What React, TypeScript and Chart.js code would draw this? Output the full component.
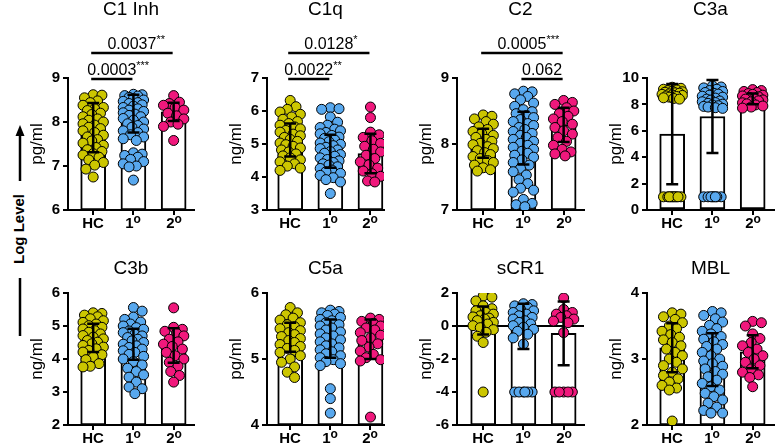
import React, { useEffect, useRef } from 'react';
import { Chart, registerables } from 'chart.js';
Chart.register(...registerables);

const FONT = "'Liberation Sans', Arial, Helvetica, sans-serif";

// ---------- DATA ----------
const groupLabels = ['HC', '1', '2'];
const groupSups = ['', 'o', 'o'];

const panelTitles = ['C1 Inh', 'C1q', 'C2', 'C3a', 'C3b', 'C5a', 'sCR1', 'MBL'];
const panelUnits = ['pg/ml', 'ng/ml', 'pg/ml', 'pg/ml', 'ng/ml', 'pg/ml', 'ng/ml', 'ng/ml'];
const yMins = [6, 3, 7, 0, 2, 4, -6, 2];
const yMaxs = [9, 7, 9, 10, 6, 6, 2, 4];
const ySteps = [1, 1, 1, 2, 1, 1, 2, 1];

const c1inhMeans = [7.87, 8.19, 8.23];
const c1inhSDs = [0.56, 0.43, 0.21];
const c1qMeans = [5.12, 4.78, 4.71];
const c1qSDs = [0.5, 0.5, 0.6];
const c2Means = [8.01, 8.09, 8.29];
const c2SDs = [0.22, 0.4, 0.26];
const c3aMeans = [5.75, 7.08, 8.42];
const c3aSDs = [3.8, 2.77, 0.4];
const c3bMeans = [4.64, 4.45, 4.41];
const c3bSDs = [0.43, 0.47, 0.52];
const c5aMeans = [5.33, 5.31, 5.3];
const c5aSDs = [0.22, 0.29, 0.3];
const scr1Means = [0.33, -0.02, -0.45];
const scr1SDs = [0.85, 1.37, 1.93];
const mblMeans = [3.17, 2.99, 3.11];
const mblSDs = [0.37, 0.4, 0.25];

const c1inhHC = [8.62, 8.61, 8.55, 8.48, 8.44, 8.38, 8.33, 8.3, 8.26, 8.2, 8.17, 8.12, 8.07, 8.04, 8.0, 7.96, 7.93, 7.88, 7.85, 7.8, 7.76, 7.7, 7.66, 7.6, 7.57, 7.52, 7.47, 7.42, 7.37, 7.33, 7.28, 7.25, 7.2, 7.14, 7.08, 7.02, 6.93, 6.75];
const c1inhP1 = [8.63, 8.62, 8.6, 8.59, 8.56, 8.53, 8.5, 8.47, 8.44, 8.42, 8.39, 8.36, 8.33, 8.3, 8.27, 8.24, 8.21, 8.18, 8.15, 8.12, 8.08, 8.04, 8.0, 7.96, 7.92, 7.88, 7.84, 7.8, 7.76, 7.71, 7.66, 7.62, 7.58, 7.3, 7.27, 7.24, 7.2, 7.15, 7.1, 7.05, 7.0, 6.98, 6.68];
const c1inhP2 = [8.6, 8.45, 8.42, 8.38, 8.33, 8.27, 8.2, 8.14, 8.07, 8.0, 7.95, 7.9, 7.58];

const c1qHC = [6.32, 6.13, 6.05, 5.97, 5.9, 5.82, 5.75, 5.68, 5.62, 5.57, 5.52, 5.46, 5.41, 5.36, 5.3, 5.25, 5.2, 5.14, 5.08, 5.03, 4.98, 4.93, 4.88, 4.82, 4.76, 4.7, 4.64, 4.58, 4.52, 4.46, 4.4, 4.33, 4.27, 4.2];
const c1qP1 = [6.1, 6.07, 6.05, 5.82, 5.66, 5.57, 5.5, 5.45, 5.4, 5.35, 5.31, 5.26, 5.21, 5.17, 5.12, 5.07, 5.03, 4.99, 4.95, 4.9, 4.86, 4.82, 4.77, 4.72, 4.68, 4.63, 4.58, 4.53, 4.49, 4.44, 4.4, 4.36, 4.31, 4.26, 4.21, 4.16, 4.11, 4.05, 3.98, 3.92, 3.85, 3.5];
const c1qP2 = [6.12, 5.8, 5.36, 5.28, 5.2, 5.1, 5.02, 4.93, 4.84, 4.76, 4.66, 4.56, 4.46, 4.37, 4.27, 4.18, 4.1, 4.02, 3.88, 3.85];

const c2HC = [8.44, 8.42, 8.38, 8.34, 8.3, 8.26, 8.22, 8.19, 8.16, 8.13, 8.1, 8.07, 8.04, 8.01, 7.99, 7.96, 7.93, 7.9, 7.87, 7.84, 7.81, 7.78, 7.75, 7.72, 7.68, 7.64, 7.61, 7.59];
const c2P1 = [8.8, 8.79, 8.76, 8.72, 8.67, 8.62, 8.57, 8.52, 8.49, 8.46, 8.43, 8.4, 8.37, 8.34, 8.31, 8.28, 8.25, 8.22, 8.19, 8.16, 8.13, 8.1, 8.07, 8.04, 8.01, 7.98, 7.95, 7.92, 7.89, 7.86, 7.83, 7.8, 7.76, 7.72, 7.68, 7.63, 7.58, 7.53, 7.46, 7.4, 7.33, 7.3, 7.27, 7.16, 7.1, 7.08, 7.05];
const c2P2 = [8.66, 8.63, 8.6, 8.55, 8.5, 8.46, 8.42, 8.38, 8.34, 8.3, 8.25, 8.2, 8.15, 8.1, 8.04, 7.98, 7.92, 7.88, 7.85, 7.82];

const c3aHC = [9.3, 9.22, 9.15, 9.1, 9.05, 9.0, 8.96, 8.92, 8.88, 8.85, 8.8, 8.76, 8.72, 8.68, 8.64, 8.6, 8.55, 8.5, 8.45, 8.4, 1.0, 1.0, 1.0, 1.0, 1.0, 1.0, 1.0, 1.0, 1.0, 1.0];
const c3aP1 = [9.4, 9.32, 9.25, 9.15, 9.05, 8.98, 8.9, 8.84, 8.78, 8.7, 8.62, 8.55, 8.48, 8.4, 8.33, 8.26, 8.2, 8.14, 8.08, 8.02, 7.96, 7.9, 7.85, 7.8, 7.75, 7.7, 1.0, 1.0, 1.0, 1.0, 1.0, 1.0, 1.0, 1.0];
const c3aP2 = [9.12, 9.05, 8.98, 8.9, 8.82, 8.76, 8.7, 8.64, 8.58, 8.52, 8.46, 8.4, 8.34, 8.27, 8.2, 8.12, 8.04, 7.96, 7.88, 7.8, 7.72];

const c3bHC = [5.4, 5.38, 5.33, 5.28, 5.22, 5.16, 5.11, 5.06, 5.01, 4.96, 4.91, 4.86, 4.81, 4.76, 4.71, 4.66, 4.61, 4.56, 4.51, 4.46, 4.41, 4.36, 4.31, 4.26, 4.21, 4.13, 4.06, 3.98, 3.86, 3.78, 3.76];
const c3bP1 = [5.56, 5.45, 5.27, 5.2, 5.12, 5.06, 5.0, 4.95, 4.9, 4.85, 4.8, 4.75, 4.7, 4.65, 4.6, 4.55, 4.5, 4.45, 4.4, 4.35, 4.3, 4.25, 4.2, 4.14, 4.08, 4.0, 3.92, 3.82, 3.72, 3.62, 3.52, 3.45, 3.3, 3.15, 3.1, 2.95];
const c3bP2 = [5.55, 4.96, 4.9, 4.84, 4.78, 4.7, 4.6, 4.52, 4.45, 4.38, 4.3, 4.2, 4.1, 4.0, 3.9, 3.78, 3.62, 3.5, 3.3];

const c5aHC = [5.78, 5.7, 5.67, 5.62, 5.59, 5.55, 5.52, 5.49, 5.46, 5.43, 5.4, 5.37, 5.34, 5.31, 5.28, 5.25, 5.22, 5.19, 5.16, 5.13, 5.1, 5.05, 5.0, 4.95, 4.88, 4.8, 4.72];
const c5aP1 = [5.74, 5.72, 5.7, 5.68, 5.66, 5.63, 5.6, 5.58, 5.55, 5.52, 5.5, 5.47, 5.44, 5.41, 5.38, 5.35, 5.32, 5.29, 5.26, 5.23, 5.2, 5.17, 5.14, 5.11, 5.08, 5.05, 5.02, 4.99, 4.96, 4.93, 4.9, 4.55, 4.4, 4.18];
const c5aP2 = [5.62, 5.6, 5.57, 5.54, 5.5, 5.47, 5.44, 5.4, 5.36, 5.32, 5.28, 5.23, 5.18, 5.12, 5.07, 5.02, 4.99, 4.97, 4.12];

const scr1HC = [1.82, 1.75, 1.52, 1.22, 1.05, 0.92, 0.82, 0.72, 0.62, 0.55, 0.48, 0.42, 0.33, 0.22, 0.12, 0.02, -0.1, -0.22, -0.38, -0.62, -1.0, -4.0];
const scr1P1 = [1.35, 1.3, 1.22, 1.12, 1.02, 0.92, 0.82, 0.72, 0.62, 0.52, 0.42, 0.32, 0.22, 0.12, 0.02, -0.08, -0.2, -0.32, -0.5, -0.72, -1.1, -4.0, -4.0, -4.0, -4.0, -4.0, -4.0];
const scr1P2 = [1.7, 1.0, 0.82, 0.72, 0.62, 0.52, 0.42, 0.3, 0.2, -0.4, -4.0, -4.0, -4.0, -4.0, -4.0];

const mblHC = [3.7, 3.68, 3.64, 3.6, 3.55, 3.5, 3.46, 3.42, 3.37, 3.33, 3.29, 3.25, 3.2, 3.15, 3.1, 3.05, 3.0, 2.95, 2.9, 2.85, 2.8, 2.75, 2.7, 2.65, 2.6, 2.56, 2.53, 2.06];
const mblP1 = [3.72, 3.7, 3.66, 3.61, 3.56, 3.51, 3.46, 3.42, 3.38, 3.34, 3.3, 3.26, 3.22, 3.19, 3.15, 3.1, 3.05, 3.0, 2.97, 2.93, 2.89, 2.85, 2.81, 2.77, 2.73, 2.68, 2.63, 2.58, 2.53, 2.48, 2.43, 2.38, 2.33, 2.27, 2.22, 2.18, 2.18];
const mblP2 = [3.57, 3.55, 3.5, 3.38, 3.31, 3.25, 3.2, 3.15, 3.1, 3.05, 3.0, 2.95, 2.9, 2.85, 2.8, 2.76, 2.72, 2.58];

type Bracket = { from: number; to: number; p: string; stars: string; level: number };
const c1inhBrackets: Bracket[] = [
  { from: 0, to: 1, p: '0.0003', stars: '***', level: 0 },
  { from: 0, to: 2, p: '0.0037', stars: '**', level: 1 },
];
const c1qBrackets: Bracket[] = [
  { from: 0, to: 1, p: '0.0022', stars: '**', level: 0 },
  { from: 0, to: 2, p: '0.0128', stars: '*', level: 1 },
];
const c2Brackets: Bracket[] = [
  { from: 1, to: 2, p: '0.062', stars: '', level: 0 },
  { from: 0, to: 2, p: '0.0005', stars: '***', level: 1 },
];

const panelMeans = [c1inhMeans, c1qMeans, c2Means, c3aMeans, c3bMeans, c5aMeans, scr1Means, mblMeans];
const panelSDs = [c1inhSDs, c1qSDs, c2SDs, c3aSDs, c3bSDs, c5aSDs, scr1SDs, mblSDs];
const panelPoints = [
  [c1inhHC, c1inhP1, c1inhP2],
  [c1qHC, c1qP1, c1qP2],
  [c2HC, c2P1, c2P2],
  [c3aHC, c3aP1, c3aP2],
  [c3bHC, c3bP1, c3bP2],
  [c5aHC, c5aP1, c5aP2],
  [scr1HC, scr1P1, scr1P2],
  [mblHC, mblP1, mblP2],
];
const panelBrackets: Bracket[][] = [c1inhBrackets, c1qBrackets, c2Brackets, [], [], [], [], []];
const panelZeroLine = [false, false, false, false, false, false, true, false];

// ---------- STYLE / LAYOUT ----------
const GROUP_COLORS = ['#CCC600', '#58A8EE', '#F0187C'];
const Y_AXIS_W = 68;
const AXIS_X = [68, 267, 457, 647];
const AXIS_LEN = [130, 121, 131, 131];
const X_FIRST = [26, 24, 27, 26];
const X_SPACING = 41.5;
const ROW_TOP = [0, 224];
const CANVAS_H = [236, 224];
const AREA_TOP = [78, 69];
const AREA_BOTTOM = [210, 201];
const X_AXIS_H = 10;
const TITLE_Y = [10, 45];

function swarm(values: number[], pxPerY: number): number[] {
  const minD = 8.5;
  const maxOff = 11.5;
  const cands: number[] = [0];
  for (let k = 1.5; k <= maxOff; k += 1.5) cands.push(k, -k);
  const placed: [number, number][] = [];
  const out: number[] = [];
  for (const v of values) {
    const py = v * pxPerY;
    let best = 0;
    let bestD = -1;
    for (const c of cands) {
      let d = Infinity;
      for (const [qx, qy] of placed) d = Math.min(d, Math.hypot(c - qx, py - qy));
      if (d >= minD) { best = c; bestD = d; break; }
      if (d > bestD) { bestD = d; best = c; }
    }
    placed.push([best, py]);
    out.push(best);
  }
  return out;
}

function drawSup(ctx: CanvasRenderingContext2D, main: string, sup: string, cx: number, baseY: number,
  mainFont: string, supFont: string, rise: number, centerMainOnly: boolean) {
  ctx.font = mainFont;
  const w1 = ctx.measureText(main).width;
  ctx.font = supFont;
  const w2 = sup ? ctx.measureText(sup).width : 0;
  const x0 = centerMainOnly ? cx - w1 / 2 : cx - (w1 + w2) / 2;
  ctx.textAlign = 'left';
  ctx.textBaseline = 'alphabetic';
  ctx.fillStyle = '#000';
  ctx.font = mainFont;
  ctx.fillText(main, x0, baseY);
  if (sup) {
    ctx.font = supFont;
    ctx.fillText(sup, x0 + w1, baseY - rise);
  }
}

function makeChart(canvas: HTMLCanvasElement, idx: number) {
  const c = idx % 4;
  const r = Math.floor(idx / 4);
  const yMin = yMins[idx], yMax = yMaxs[idx];
  const means = panelMeans[idx], sds = panelSDs[idx];
  const xMin = -X_FIRST[c] / X_SPACING;
  const xMax = xMin + AXIS_LEN[c] / X_SPACING;
  const pxPerY = (AREA_BOTTOM[r] - AREA_TOP[r]) / (yMax - yMin);

  const datasets: any[] = [{
    type: 'bar',
    data: means.map((m, i) => ({ x: i, y: [yMin, m] })),
    backgroundColor: '#ffffff',
    borderColor: '#000000',
    borderWidth: 2,
    borderSkipped: false,
    barThickness: 25,
    order: 3,
  }];
  if (panelZeroLine[idx]) {
    datasets.push({
      type: 'line',
      data: [{ x: xMin, y: 0 }, { x: xMax, y: 0 }],
      borderColor: '#000', borderWidth: 2, pointRadius: 0, order: 2,
    });
  }
  panelPoints[idx].forEach((vals, g) => {
    const offs = swarm(vals, pxPerY);
    datasets.push({
      type: 'scatter',
      data: vals.map((v, k) => ({ x: g + offs[k] / X_SPACING, y: v })),
      pointRadius: 5,
      pointBorderWidth: 1,
      pointBorderColor: '#000',
      pointBackgroundColor: GROUP_COLORS[g],
      order: 1,
    });
  });

  const plugin = {
    id: 'panelDecor' + idx,
    afterDatasetsDraw(chart: any) {
      const ctx = chart.ctx as CanvasRenderingContext2D;
      const xs = chart.scales.x, ys = chart.scales.y;
      ctx.save();
      ctx.strokeStyle = '#000';
      ctx.lineWidth = 2.5;
      means.forEach((m, i) => {
        const x = xs.getPixelForValue(i);
        const yt = ys.getPixelForValue(m + sds[i]);
        const yb = ys.getPixelForValue(m - sds[i]);
        ctx.beginPath();
        ctx.moveTo(x, yt); ctx.lineTo(x, yb);
        ctx.moveTo(x - 6, yt); ctx.lineTo(x + 6, yt);
        ctx.moveTo(x - 6, yb); ctx.lineTo(x + 6, yb);
        ctx.stroke();
      });
      ctx.restore();
    },
    afterDraw(chart: any) {
      const ctx = chart.ctx as CanvasRenderingContext2D;
      const xs = chart.scales.x;
      const area = chart.chartArea;
      ctx.save();
      ctx.strokeStyle = '#000';
      ctx.lineWidth = 2;
      groupLabels.forEach((lab, i) => {
        const x = Math.round(xs.getPixelForValue(i));
        ctx.beginPath();
        ctx.moveTo(x, area.bottom);
        ctx.lineTo(x, area.bottom + 5);
        ctx.stroke();
        drawSup(ctx, lab, groupSups[i], x, area.bottom + 18, `bold 15px ${FONT}`, `bold 12px ${FONT}`, 5, false);
      });
      ctx.fillStyle = '#000';
      ctx.font = `19px ${FONT}`;
      ctx.textAlign = 'center';
      ctx.textBaseline = 'middle';
      ctx.fillText(panelTitles[idx], (area.left + area.right) / 2, TITLE_Y[r]);
      ctx.save();
      ctx.translate(area.left - 31, (area.top + area.bottom) / 2);
      ctx.rotate(-Math.PI / 2);
      ctx.font = `17px ${FONT}`;
      ctx.textAlign = 'center';
      ctx.textBaseline = 'middle';
      ctx.fillText(panelUnits[idx], 0, 0);
      ctx.restore();
      panelBrackets[idx].forEach((b) => {
        const y = area.top + 1 - b.level * 26;
        const x1 = xs.getPixelForValue(b.from) - 2;
        const x2 = xs.getPixelForValue(b.to) - 1;
        ctx.lineWidth = 2.5;
        ctx.beginPath();
        ctx.moveTo(x1, y);
        ctx.lineTo(x2, y);
        ctx.stroke();
        drawSup(ctx, b.p, b.stars, (x1 + x2) / 2, y - 4, `16px ${FONT}`, `11px ${FONT}`, 6, true);
      });
      ctx.restore();
    },
  };

  return new Chart(canvas, {
    type: 'bar',
    data: { datasets },
    options: {
      animation: false,
      responsive: false,
      maintainAspectRatio: false,
      devicePixelRatio: 1,
      events: [],
      layout: {
        padding: {
          top: AREA_TOP[r],
          bottom: CANVAS_H[r] - AREA_BOTTOM[r] - X_AXIS_H,
          left: 0,
          right: 2,
        },
      },
      plugins: { legend: { display: false }, tooltip: { enabled: false }, title: { display: false } },
      scales: {
        x: {
          type: 'linear',
          offset: false,
          min: xMin,
          max: xMax,
          ticks: { display: false },
          grid: { display: false, offset: false },
          border: { display: true, color: '#000', width: 2 },
          afterFit: (s: any) => { s.height = X_AXIS_H; },
        },
        y: {
          type: 'linear',
          min: yMin,
          max: yMax,
          ticks: { stepSize: ySteps[idx], color: '#000', font: { family: FONT, weight: 'bold', size: 15 }, padding: 3 },
          grid: { drawOnChartArea: false, drawTicks: true, tickLength: 5, color: '#000', lineWidth: 2 },
          border: { display: true, color: '#000', width: 2 },
          afterFit: (s: any) => { s.width = Y_AXIS_W; },
        },
      },
    } as any,
    plugins: [plugin],
  } as any);
}

export default function App() {
  const refs = useRef<(HTMLCanvasElement | null)[]>([]);
  useEffect(() => {
    const charts = panelTitles.map((_, i) => makeChart(refs.current[i]!, i));
    return () => charts.forEach((ch) => ch.destroy());
  }, []);
  return (
    <div style={{ position: 'fixed', left: 0, top: 0, width: 779, height: 448, overflow: 'hidden', background: '#fff' }}>
      <svg width={45} height={448} style={{ position: 'absolute', left: 0, top: 0 }}>
        <line x1={20} y1={181} x2={20} y2={134} stroke="#000" strokeWidth={2.5} />
        <polygon points="20,125 15.5,136 24.5,136" fill="#000" />
        <text x={20} y={229} transform="rotate(-90 20 229)" textAnchor="middle" dominantBaseline="middle"
          style={{ fontFamily: FONT, fontWeight: 'bold', fontSize: 15 }} fill="#000">Log Level</text>
        <line x1={20} y1={278} x2={20} y2={336} stroke="#000" strokeWidth={2.5} />
      </svg>
      {panelTitles.map((_, i) => {
        const c = i % 4;
        const r = Math.floor(i / 4);
        const left = AXIS_X[c] - Y_AXIS_W;
        const w = Y_AXIS_W + AXIS_LEN[c] + 2;
        return (
          <canvas key={i} ref={(el) => { refs.current[i] = el; }} width={w} height={CANVAS_H[r]}
            style={{ position: 'absolute', left, top: ROW_TOP[r], width: w, height: CANVAS_H[r] }} />
        );
      })}
    </div>
  );
}
